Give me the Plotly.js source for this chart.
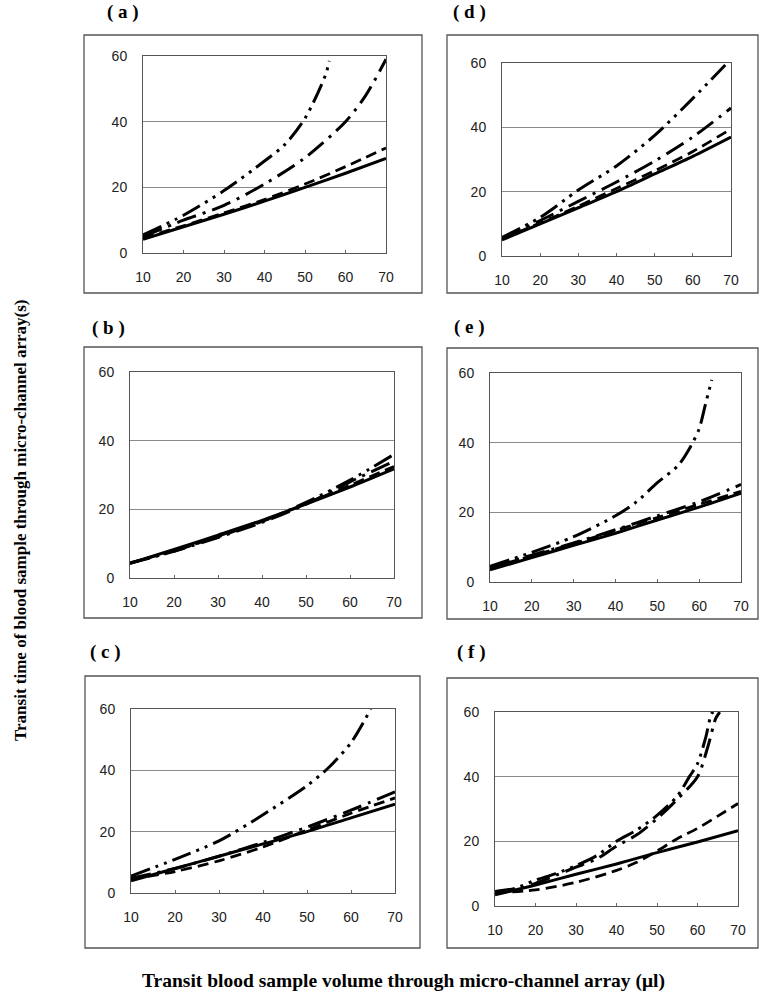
<!DOCTYPE html>
<html>
<head>
<meta charset="utf-8">
<script src="https://cdn.plot.ly/plotly-3.0.1.min.js"></script>
<style>html,body{margin:0;padding:0;background:#fff;}#chart{width:766px;height:1000px;}</style>
</head>
<body>
<div id="chart"></div>
<script>
// ---------- data ----------
const xTicks = [10, 20, 30, 40, 50, 60, 70];
const yTicks = [0, 20, 40, 60];
const panelLabels = ['( a )', '( b )', '( c )', '( d )', '( e )', '( f )'];

// panel (a)
const a_solid_x = [10, 20, 30, 40, 50, 60, 70];
const a_solid_y = [4.2, 8, 11.8, 15.8, 20, 24.3, 28.8];
const a_dash_x = [10, 20, 30, 40, 50, 60, 70];
const a_dash_y = [4.5, 8.3, 12.2, 16.3, 21, 26.3, 32];
const a_dashdot_x = [10, 20, 30, 40, 50, 60, 65, 70];
const a_dashdot_y = [5, 10, 14.5, 21, 29, 40, 48, 59];
const a_dashdotdot_x = [10, 20, 30, 40, 45, 50, 55, 56];
const a_dashdotdot_y = [5.5, 11.5, 19, 28, 33, 41, 54, 58.5];

// panel (b)
const b_solid_x = [10, 20, 30, 40, 50, 60, 70];
const b_solid_y = [4.3, 8.3, 12.5, 16.8, 21.5, 26.5, 31.8];
const b_dash_x = [10, 20, 30, 40, 50, 60, 70];
const b_dash_y = [4.3, 8, 12, 16.5, 21.7, 27, 32.5];
const b_dashdot_x = [10, 20, 30, 40, 50, 60, 70];
const b_dashdot_y = [4.3, 7.8, 11.8, 16.2, 21.5, 28, 34];
const b_dashdotdot_x = [10, 20, 30, 40, 50, 60, 70];
const b_dashdotdot_y = [4.4, 7.8, 12.2, 16.5, 22, 28.5, 36];

// panel (c)
const c_solid_x = [10, 20, 30, 40, 50, 60, 70];
const c_solid_y = [4, 8, 12, 16, 20, 24.5, 29];
const c_dash_x = [10, 20, 30, 40, 50, 60, 70];
const c_dash_y = [4.5, 7, 10.5, 15, 20.5, 26, 31];
const c_dashdot_x = [10, 20, 30, 40, 50, 60, 70];
const c_dashdot_y = [4.8, 8, 12, 16.5, 21.5, 27, 33];
const c_dashdotdot_x = [10, 20, 30, 40, 50, 55, 60, 64.5];
const c_dashdotdot_y = [5.5, 11, 17, 25.5, 35, 41, 49, 60];

// panel (d)
const d_solid_x = [10, 20, 30, 40, 50, 60, 70];
const d_solid_y = [5, 10, 15, 20, 25.5, 31, 37];
const d_dash_x = [10, 20, 30, 40, 50, 60, 70];
const d_dash_y = [5.3, 10.3, 15.5, 21, 26.5, 32.5, 39.5];
const d_dashdot_x = [10, 20, 30, 40, 50, 60, 70];
const d_dashdot_y = [5.5, 11, 17, 23, 29.5, 37, 46];
const d_dashdotdot_x = [10, 20, 30, 40, 50, 60, 69];
const d_dashdotdot_y = [5.8, 12, 20.5, 28, 37.5, 49, 60];

// panel (e)
const e_solid_x = [10, 20, 30, 40, 50, 60, 70];
const e_solid_y = [3.5, 7, 10.5, 14, 17.8, 21.5, 25.5];
const e_dash_x = [10, 20, 30, 40, 50, 60, 70];
const e_dash_y = [4, 7.5, 11, 14.8, 18.5, 22.3, 26];
const e_dashdot_x = [10, 20, 30, 40, 50, 60, 70];
const e_dashdot_y = [4.2, 7.7, 11.2, 15, 19, 23, 28];
const e_dashdotdot_x = [10, 20, 30, 40, 45, 50, 55, 58, 60, 61.5, 63];
const e_dashdotdot_y = [4.5, 8.5, 13, 19, 23, 28.5, 33.5, 39, 44, 51, 58];

// panel (f)
const f_solid_x = [10, 20, 30, 40, 50, 60, 70];
const f_solid_y = [3.5, 6.5, 9.8, 13, 16.5, 19.8, 23.3];
const f_dash_x = [10, 20, 30, 40, 45, 50, 55, 60, 65, 70];
const f_dash_y = [4, 5, 7.3, 11, 13.5, 17, 20.8, 24, 27.8, 31.7];
const f_dashdot_x = [10, 15, 20, 25, 30, 35, 40, 45, 50, 55, 60, 62.5, 64.5, 65.5];
const f_dashdot_y = [4, 5, 7, 9.5, 12, 14.5, 18.5, 22, 27, 33, 40, 49, 58, 60];
const f_dashdotdot_x = [10, 15, 20, 25, 30, 35, 40, 45, 50, 55, 58, 60, 62, 63.5, 64];
const f_dashdotdot_y = [4.5, 5.5, 8, 10, 12.5, 15.5, 20, 23.5, 28, 34, 40, 44, 52, 59.6, 60];

// ---------- layout geometry (pixels in a 766 x 1000 page) ----------
const W = 766, H = 1000;
// [plotLeft, plotRight, plotTop, plotBottom, boxLeft, boxRight, boxTop, boxBottom, labelX, labelY]
const geom = [
  [143, 386, 56, 253, 84, 422, 35, 293, 123, 12],
  [130, 394, 372, 578, 84, 422, 347, 618, 109, 328],
  [131, 395, 709, 893, 85, 420, 676, 948, 105, 652],
  [502, 731, 63, 256, 447, 758, 35, 293, 470, 12],
  [490, 741, 373, 582, 447, 758, 348, 619, 470, 327],
  [495, 738, 712, 906, 447, 758, 678, 948, 471, 652]
];

const series = [
  [[a_solid_x, a_solid_y], [a_dash_x, a_dash_y], [a_dashdot_x, a_dashdot_y], [a_dashdotdot_x, a_dashdotdot_y]],
  [[b_solid_x, b_solid_y], [b_dash_x, b_dash_y], [b_dashdot_x, b_dashdot_y], [b_dashdotdot_x, b_dashdotdot_y]],
  [[c_solid_x, c_solid_y], [c_dash_x, c_dash_y], [c_dashdot_x, c_dashdot_y], [c_dashdotdot_x, c_dashdotdot_y]],
  [[d_solid_x, d_solid_y], [d_dash_x, d_dash_y], [d_dashdot_x, d_dashdot_y], [d_dashdotdot_x, d_dashdotdot_y]],
  [[e_solid_x, e_solid_y], [e_dash_x, e_dash_y], [e_dashdot_x, e_dashdot_y], [e_dashdotdot_x, e_dashdotdot_y]],
  [[f_solid_x, f_solid_y], [f_dash_x, f_dash_y], [f_dashdot_x, f_dashdot_y], [f_dashdotdot_x, f_dashdotdot_y]]
];

const styles = [
  {dash: 'solid', width: 3},
  {dash: '11px,6px', width: 2.8},
  {dash: '20px,7px,3px,7px', width: 3},
  {dash: '20px,6px,3px,6px,3px,6px', width: 3}
];

const traces = [];
const layout = {
  width: W, height: H,
  margin: {l: 0, r: 0, t: 0, b: 0},
  paper_bgcolor: '#ffffff',
  plot_bgcolor: '#ffffff',
  showlegend: false,
  font: {family: 'Liberation Sans, Arial, sans-serif', size: 14, color: '#222'},
  shapes: [],
  annotations: []
};

geom.forEach((g, i) => {
  const n = i + 1;
  const xa = 'xaxis' + (n === 1 ? '' : n);
  const ya = 'yaxis' + (n === 1 ? '' : n);
  const xr = 'x' + (n === 1 ? '' : n);
  const yr = 'y' + (n === 1 ? '' : n);
  series[i].forEach((s, k) => {
    traces.push({
      type: 'scatter', mode: 'lines',
      x: s[0], y: s[1],
      xaxis: xr, yaxis: yr,
      line: {color: '#000', width: styles[k].width, dash: styles[k].dash, shape: 'spline', smoothing: 0.8},
      hoverinfo: 'skip'
    });
  });
  layout[xa] = {
    domain: [g[0] / W, g[1] / W],
    anchor: yr,
    range: [10, 70],
    tickvals: xTicks,
    ticktext: xTicks.map(String),
    ticks: 'inside', ticklen: 3, tickcolor: '#666', tickwidth: 1,
    ticklabelstandoff: 11,
    showgrid: false, zeroline: false,
    showline: true, linecolor: '#555', linewidth: 1, mirror: true,
    tickfont: {size: 14, color: '#222'},
    fixedrange: true
  };
  layout[ya] = {
    domain: [1 - g[3] / H, 1 - g[2] / H],
    anchor: xr,
    range: [0, 60],
    tickvals: yTicks,
    ticktext: yTicks.map(String),
    ticks: '',
    ticklabelstandoff: 12,
    showgrid: true, gridcolor: '#8a8a8a', gridwidth: 1,
    zeroline: false,
    showline: true, linecolor: '#555', linewidth: 1, mirror: true,
    tickfont: {size: 14, color: '#222'},
    fixedrange: true
  };
  layout.shapes.push({
    type: 'rect', xref: 'paper', yref: 'paper',
    x0: g[4] / W, x1: g[5] / W, y0: 1 - g[7] / H, y1: 1 - g[6] / H,
    line: {color: '#555', width: 1.3}, fillcolor: 'rgba(0,0,0,0)'
  });
  layout.annotations.push({
    xref: 'paper', yref: 'paper',
    x: g[8] / W, y: 1 - g[9] / H,
    xanchor: 'center', yanchor: 'middle',
    text: panelLabels[i], showarrow: false,
    font: {family: 'Liberation Serif, Times New Roman, serif', size: 19, color: '#000', weight: 'bold'}
  });
});

layout.annotations.push({
  xref: 'paper', yref: 'paper',
  x: 403 / W, y: 1 - 981 / H,
  xanchor: 'center', yanchor: 'middle',
  text: '<b>Transit blood sample volume through micro-channel array (μl)</b>',
  showarrow: false,
  font: {family: 'Liberation Serif, Times New Roman, serif', size: 19.5, color: '#000'}
});
layout.annotations.push({
  xref: 'paper', yref: 'paper',
  x: 20 / W, y: 1 - 520 / H,
  xanchor: 'center', yanchor: 'middle',
  textangle: -90,
  text: '<b>Transit time of blood sample through micro-channel array(s)</b>',
  showarrow: false,
  font: {family: 'Liberation Serif, Times New Roman, serif', size: 17, color: '#000'}
});

Plotly.newPlot('chart', traces, layout, {staticPlot: true, displayModeBar: false});
</script>
</body>
</html>
